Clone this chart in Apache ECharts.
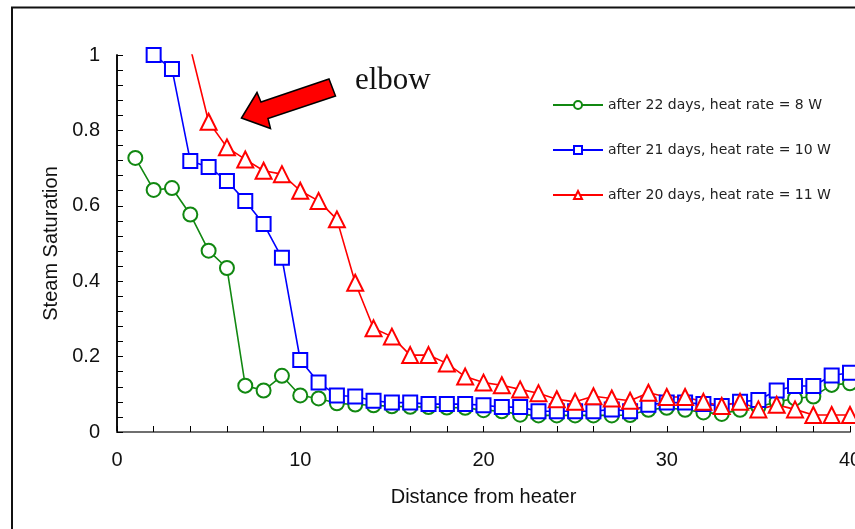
<!DOCTYPE html>
<html>
<head>
<meta charset="utf-8">
<script src="https://cdn.jsdelivr.net/npm/echarts@6/dist/echarts.min.js"></script>
<style>
html,body{margin:0;padding:0;background:#fff;overflow:hidden;width:855px;height:529px;}
#chart{width:855px;height:529px;}
</style>
</head>
<body>
<div id="chart"></div>
<script>
// ---- data ----
var distance = [1,2,3,4,5,6,7,8,9,10,11,12,13,14,15,16,17,18,19,20,21,22,23,24,25,26,27,28,29,30,31,32,33,34,35,36,37,38,39,40];
var sat22days8W = [0.727,0.642,0.647,0.577,0.481,0.435,0.123,0.110,0.149,0.097,0.089,0.076,0.073,0.071,0.068,0.067,0.066,0.065,0.064,0.058,0.055,0.046,0.044,0.044,0.044,0.044,0.044,0.045,0.059,0.064,0.059,0.052,0.048,0.059,0.066,0.080,0.089,0.094,0.125,0.129];
var sat21days10W = [null,1.000,0.963,0.719,0.703,0.666,0.613,0.552,0.462,0.191,0.131,0.097,0.094,0.083,0.078,0.078,0.074,0.074,0.074,0.071,0.066,0.066,0.055,0.055,0.055,0.055,0.060,0.055,0.072,0.078,0.078,0.074,0.069,0.080,0.085,0.110,0.122,0.122,0.150,0.157];
var sat20days11W = [null,null,null,1.020,0.823,0.755,0.723,0.693,0.684,0.640,0.613,0.564,0.396,0.275,0.253,0.204,0.204,0.182,0.147,0.131,0.124,0.113,0.103,0.087,0.080,0.095,0.089,0.083,0.104,0.093,0.093,0.080,0.069,0.080,0.060,0.072,0.060,0.045,0.045,0.045];
var seriesNames = ['after 22 days, heat rate = 8 W','after 21 days, heat rate = 10 W','after 20 days, heat rate = 11 W'];
var xTitle = 'Distance from heater';
var yTitle = 'Steam Saturation';
var annotationText = 'elbow';

function pairs(vals){
  var out = [];
  for (var i = 0; i < distance.length; i++) {
    if (vals[i] !== null) out.push([distance[i], vals[i]]);
  }
  return out;
}

var chart = echarts.init(document.getElementById('chart'), null, {renderer:'canvas', width: 855, height: 529});
var FONT = '"Liberation Sans", Arial, sans-serif';

function mkSeries(name, vals, symbol, color, size){
  return {
    name: name,
    type: 'line',
    data: pairs(vals),
    symbol: symbol,
    symbolSize: size,
    showAllSymbol: true,
    clip: true,
    animation: false,
    lineStyle: {color: color, width: 1.6},
    itemStyle: {color: '#fff', borderColor: color, borderWidth: 2}
  };
}

var option = {
  animation: false,
  backgroundColor: '#fff',
  grid: {left: 117, right: 5, top: 55, bottom: 97, containLabel: false, outerBoundsMode: 'none'},
  legend: {
    orient: 'vertical',
    left: 552,
    top: 98,
    padding: 0,
    itemWidth: 50,
    itemHeight: 10,
    itemGap: 31,
    textStyle: {fontFamily: '"DejaVu Sans", sans-serif', fontSize: 14, color: '#222', padding: [0,0,0,0]},
    data: seriesNames
  },
  xAxis: [{
    type: 'value',
    min: 0, max: 40, interval: 10,
    position: 'bottom',
    name: xTitle,
    nameLocation: 'middle',
    nameGap: 55,
    nameTextStyle: {fontFamily: FONT, fontSize: 20, color: '#111'},
    axisLine: {show: true, lineStyle: {color: '#000', width: 1.5}},
    axisTick: {show: true, inside: true, length: 6, lineStyle: {color: '#000'}},
    minorTick: {show: true, splitNumber: 5, length: 6, lineStyle: {color: '#000'}},
    axisLabel: {fontFamily: FONT, fontSize: 20, color: '#111', margin: 18},
    splitLine: {show: false}
  },{
    type: 'value',
    min: 0, max: 40, interval: 10,
    position: 'top',
    axisLine: {show: true, lineStyle: {color: '#808080', width: 1.5}},
    axisTick: {show: false},
    axisLabel: {show: false},
    splitLine: {show: false}
  }],
  yAxis: [{
    type: 'value',
    min: 0, max: 1, interval: 0.2,
    position: 'left',
    name: yTitle,
    nameLocation: 'middle',
    nameGap: 56,
    nameTextStyle: {fontFamily: FONT, fontSize: 20, color: '#111'},
    axisLine: {show: true, lineStyle: {color: '#000', width: 1.5}},
    axisTick: {show: true, inside: true, length: 6, lineStyle: {color: '#000'}},
    minorTick: {show: true, splitNumber: 5, length: 6, lineStyle: {color: '#000'}},
    axisLabel: {fontFamily: FONT, fontSize: 20, color: '#111', margin: 17},
    splitLine: {show: false}
  },{
    type: 'value',
    min: 0, max: 1, interval: 0.2,
    position: 'right',
    axisLine: {show: true, lineStyle: {color: '#000', width: 1.5}},
    axisTick: {show: false},
    axisLabel: {show: false},
    splitLine: {show: false}
  }],
  series: [
    mkSeries(seriesNames[0], sat22days8W, 'circle', '#118811', 14),
    mkSeries(seriesNames[1], sat21days10W, 'rect', '#0000ff', 14),
    mkSeries(seriesNames[2], sat20days11W, 'triangle', '#ff0000', 16)
  ],
  graphic: [
    {
      type: 'rect', silent: true, z: 100,
      shape: {x: 12, y: 7.5, width: 900, height: 600},
      style: {fill: null, stroke: '#111', lineWidth: 2}
    },
    {
      type: 'polygon', silent: true, z: 100,
      shape: {points: [[241.5,118],[257,92.5],[261,102],[329,79],[335.5,96],[268,118.5],[270.5,128.5]]},
      style: {fill: '#ff0000', stroke: '#000', lineWidth: 1.5}
    },
    {
      type: 'text', silent: true, z: 100,
      x: 355, y: 65,
      style: {text: annotationText, fontFamily: '"Liberation Serif", "Times New Roman", serif', fontSize: 31, fill: '#111'}
    }
  ]
};
chart.setOption(option);
</script>
</body>
</html>
